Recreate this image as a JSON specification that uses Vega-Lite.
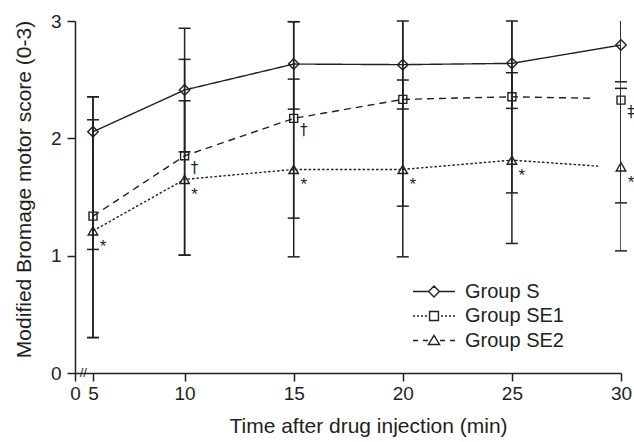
{
  "$schema": "https://vega.github.io/schema/vega-lite/v6.json",
  "width": 546,
  "height": 352,
  "autosize": {"type": "none"},
  "padding": {"left": 75, "top": 21, "right": 13, "bottom": 69},
  "background": "white",
  "config": {
    "view": {"stroke": null},
    "font": "Liberation Sans",
    "axis": {
      "domainColor": "#231f20", "domainWidth": 1.5,
      "tickColor": "#231f20", "tickWidth": 1.5, "tickSize": 8,
      "labelFont": "Liberation Sans", "labelFontSize": 19, "labelColor": "#231f20",
      "titleFont": "Liberation Sans", "titleFontSize": 21, "titleFontWeight": "normal", "titleColor": "#231f20",
      "grid": false, "labelFlush": false, "labelOverlap": false
    }
  },
  "datasets": {
    "means": [
      {"group": "Group S", "time": 5, "score": 2.056},
      {"group": "Group S", "time": 10, "score": 2.412},
      {"group": "Group S", "time": 15, "score": 2.633},
      {"group": "Group S", "time": 20, "score": 2.628},
      {"group": "Group S", "time": 25, "score": 2.639},
      {"group": "Group S", "time": 30, "score": 2.795},
      {"group": "Group SE1", "time": 5, "score": 1.337},
      {"group": "Group SE1", "time": 10, "score": 1.851},
      {"group": "Group SE1", "time": 15, "score": 2.170},
      {"group": "Group SE1", "time": 20, "score": 2.332},
      {"group": "Group SE1", "time": 25, "score": 2.354},
      {"group": "Group SE1", "time": 30, "score": 2.326},
      {"group": "Group SE2", "time": 5, "score": 1.211},
      {"group": "Group SE2", "time": 10, "score": 1.650},
      {"group": "Group SE2", "time": 15, "score": 1.735},
      {"group": "Group SE2", "time": 20, "score": 1.735},
      {"group": "Group SE2", "time": 25, "score": 1.814},
      {"group": "Group SE2", "time": 30, "score": 1.757}
    ],
    "lines": [
      {"group": "Group S", "time": 5, "score": 2.056},
      {"group": "Group S", "time": 10, "score": 2.412},
      {"group": "Group S", "time": 15, "score": 2.633},
      {"group": "Group S", "time": 20, "score": 2.628},
      {"group": "Group S", "time": 25, "score": 2.639},
      {"group": "Group S", "time": 30, "score": 2.795},
      {"group": "Group SE1", "time": 5, "score": 1.337},
      {"group": "Group SE1", "time": 10, "score": 1.851},
      {"group": "Group SE1", "time": 15, "score": 2.170},
      {"group": "Group SE1", "time": 20, "score": 2.332},
      {"group": "Group SE1", "time": 25, "score": 2.354},
      {"group": "Group SE1", "time": 28.73, "score": 2.341},
      {"group": "Group SE2", "time": 5, "score": 1.211},
      {"group": "Group SE2", "time": 10, "score": 1.650},
      {"group": "Group SE2", "time": 15, "score": 1.735},
      {"group": "Group SE2", "time": 20, "score": 1.735},
      {"group": "Group SE2", "time": 25, "score": 1.814},
      {"group": "Group SE2", "time": 28.96, "score": 1.763}
    ],
    "errors": [
      {"group": "Group S", "time": 5, "lo": 1.053, "hi": 2.354},
      {"group": "Group SE1", "time": 5, "lo": 0.302, "hi": 2.354},
      {"group": "Group SE2", "time": 5, "lo": 0.302, "hi": 2.158},
      {"group": "Group S", "time": 10, "lo": 1.885, "hi": 2.938},
      {"group": "Group SE1", "time": 10, "lo": 1.004, "hi": 2.673},
      {"group": "Group SE2", "time": 10, "lo": 1.004, "hi": 2.320},
      {"group": "Group S", "time": 15, "lo": 2.249, "hi": 2.994},
      {"group": "Group SE1", "time": 15, "lo": 1.320, "hi": 2.994},
      {"group": "Group SE2", "time": 15, "lo": 0.990, "hi": 2.505},
      {"group": "Group S", "time": 20, "lo": 2.250, "hi": 3.000},
      {"group": "Group SE1", "time": 20, "lo": 1.422, "hi": 3.240},
      {"group": "Group SE2", "time": 20, "lo": 0.990, "hi": 2.497},
      {"group": "Group S", "time": 25, "lo": 2.255, "hi": 3.000},
      {"group": "Group SE1", "time": 25, "lo": 1.535, "hi": 3.170},
      {"group": "Group SE2", "time": 25, "lo": 1.104, "hi": 2.559},
      {"group": "Group S", "time": 30, "lo": 2.482, "hi": 3.110},
      {"group": "Group SE1", "time": 30, "lo": 1.450, "hi": 3.200},
      {"group": "Group SE2", "time": 30, "lo": 1.041, "hi": 2.426}
    ],
    "notes": [
      {"time": 5, "score": 1.211, "sym": "*"},
      {"time": 10, "score": 1.851, "sym": "†"},
      {"time": 10, "score": 1.650, "sym": "*"},
      {"time": 15, "score": 2.170, "sym": "†"},
      {"time": 15, "score": 1.735, "sym": "*"},
      {"time": 20, "score": 1.735, "sym": "*"},
      {"time": 25, "score": 1.814, "sym": "*"},
      {"time": 30, "score": 2.326, "sym": "‡"},
      {"time": 30, "score": 1.757, "sym": "*"}
    ],
    "brk": [{"time": 2.3, "score": 0, "t": "//"}]
  },
  "encoding": {
    "x": {
      "field": "time", "type": "quantitative",
      "scale": {"domain": [0, 5, 10, 30], "range": [0, 18, 109.6, 546], "nice": false, "zero": false},
      "axis": {"values": [0, 5, 10, 15, 20, 25, 30], "format": "d", "labelPadding": 3, "titlePadding": 12, "titleX": 293},
      "title": "Time after drug injection (min)"
    }
  },
  "resolve": {"scale": {"shape": "independent"}, "legend": {"shape": "independent"}},
  "layer": [
    {
      "data": {"name": "lines"},
      "mark": {"type": "line", "color": "#231f20", "strokeWidth": 1.4},
      "encoding": {
        "y": {"field": "score", "type": "quantitative", "scale": {"domain": [0, 3], "nice": false}, "axis": {"values": [0, 1, 2, 3], "format": "d", "labelPadding": 6, "titlePadding": 16, "titleY": 168}, "title": "Modified Bromage motor score (0-3)"},
        "strokeDash": {"field": "group", "type": "nominal", "scale": {"domain": ["Group SE1", "Group SE2", "Group S"], "range": [[7, 5], [2.5, 2], [1, 0]]}, "legend": null},
        "order": {"field": "time"}
      }
    },
    {
      "data": {"name": "errors"},
      "mark": {"type": "rule", "color": "#231f20", "strokeWidth": 1.5, "clip": true},
      "encoding": {
        "y": {"field": "lo", "type": "quantitative", "title": "Modified Bromage motor score (0-3)"},
        "y2": {"field": "hi"}
      }
    },
    {
      "data": {"name": "errors"},
      "transform": [{"fold": ["lo", "hi"], "as": ["end", "score"]}, {"filter": "datum.score <= 3.0001"}],
      "mark": {"type": "tick", "orient": "horizontal", "color": "#231f20", "size": 12, "thickness": 1.5, "opacity": 1},
      "encoding": {
        "y": {"field": "score", "type": "quantitative", "title": "Modified Bromage motor score (0-3)"}
      }
    },
    {
      "data": {"name": "means"},
      "mark": {"type": "point", "filled": false, "strokeWidth": 1.4, "color": "#231f20", "opacity": 1},
      "encoding": {
        "y": {"field": "score", "type": "quantitative", "title": "Modified Bromage motor score (0-3)"},
        "shape": {
          "field": "group", "type": "nominal",
          "scale": {"domain": ["Group S", "Group SE1", "Group SE2"], "range": ["diamond", "square", "triangle-up"]},
          "legend": null
        },
        "size": {"condition": [{"test": "datum.group === 'Group S'", "value": 110}, {"test": "datum.group === 'Group SE1'", "value": 64}], "value": 90}
      }
    },
    {
      "data": {"name": "means"},
      "mark": {"type": "point", "filled": false, "strokeWidth": 1.4, "color": "#231f20", "opacity": 0, "size": 576},
      "encoding": {
        "y": {"field": "score", "type": "quantitative", "title": "Modified Bromage motor score (0-3)"},
        "shape": {
          "field": "group", "type": "nominal",
          "scale": {"domain": ["Group S", "Group SE1", "Group SE2"], "range": [
            "M-1.75,0L-0.45,0M0.45,0L1.75,0M0,-0.45L0.45,0L0,0.45L-0.45,0Z",
            "M-1.75,0L-1.583,0M-1.417,0L-1.25,0M-1.083,0L-0.917,0M-0.75,0L-0.583,0M0.583,0L0.75,0M0.917,0L1.083,0M1.25,0L1.417,0M1.583,0L1.75,0M-0.37,-0.37L0.37,-0.37L0.37,0.37L-0.37,0.37Z",
            "M-1.75,0L-1.333,0M-0.917,0L-0.5,0M0.5,0L0.917,0M1.333,0L1.75,0M0,-0.42L0.46,0.33L-0.46,0.33Z"
          ]},
          "legend": {
            "title": null, "orient": "none", "legendX": 346, "legendY": 257.5, "direction": "vertical",
            "symbolSize": 576, "symbolStrokeWidth": 1.4, "symbolStrokeColor": "#231f20", "symbolFillColor": "transparent", "symbolOpacity": 1,
            "labelFont": "Liberation Sans", "labelFontSize": 20, "labelColor": "#231f20", "labelOffset": 18,
            "rowPadding": 1.5, "padding": 0
          }
        }
      }
    },
    {
      "data": {"name": "notes"},
      "transform": [{"filter": "datum.sym === '*'"}],
      "mark": {"type": "text", "color": "#231f20", "fontSize": 17, "align": "center", "baseline": "alphabetic", "dx": 10, "dy": 21},
      "encoding": {
        "y": {"field": "score", "type": "quantitative", "title": "Modified Bromage motor score (0-3)"},
        "text": {"field": "sym"}
      }
    },
    {
      "data": {"name": "notes"},
      "transform": [{"filter": "datum.sym !== '*'"}],
      "mark": {"type": "text", "color": "#231f20", "font": "DejaVu Sans", "fontSize": 15, "align": "center", "baseline": "alphabetic", "dx": 10, "dy": 17},
      "encoding": {
        "y": {"field": "score", "type": "quantitative", "title": "Modified Bromage motor score (0-3)"},
        "text": {"field": "sym"}
      }
    },
    {
      "data": {"name": "brk"},
      "mark": {"type": "text", "color": "#231f20", "fontSize": 13, "align": "center", "baseline": "middle"},
      "encoding": {
        "y": {"field": "score", "type": "quantitative", "title": "Modified Bromage motor score (0-3)"},
        "text": {"field": "t"}
      }
    }
  ]
}
